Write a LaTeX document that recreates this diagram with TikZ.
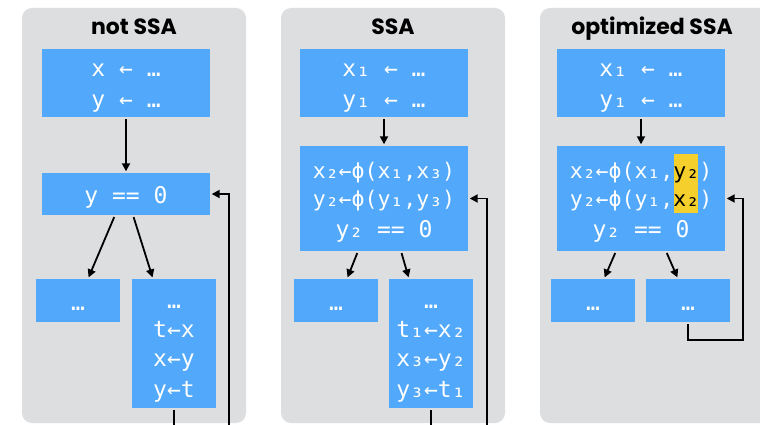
\documentclass[tikz,border=0pt]{standalone}
\usepackage{fontspec}
\usetikzlibrary{arrows.meta}
\newfontfamily\monofont{DejaVu Sans Mono}
\newfontfamily\titlefont{Poppins}
\newcommand\bs{\rule[-6pt]{0pt}{31pt}}
\newcommand\philine{\fontsize{21.5}{28}\selectfont}
\definecolor{panelgray}{HTML}{DDDEE0}
\definecolor{blockblue}{HTML}{52A8FA}
\definecolor{hlyellow}{HTML}{F5CF2B}
\begin{document}
\begin{tikzpicture}[x=1pt,y=-1pt,
  panel/.style={fill=panelgray, rounded corners=10pt},
  title/.style={font=\titlefont\bfseries\fontsize{22}{26}\selectfont, text=black, anchor=base, inner sep=0pt},
  block/.style={fill=blockblue, inner sep=0pt, text=white, align=center,
    font=\monofont\fontsize{23}{31}\selectfont},
  wide/.style={block, minimum width=168pt},
  narrow/.style={block, minimum width=84pt},
  flow/.style={line width=1.8pt, -{Triangle[length=8pt,width=8pt]}, shorten >=1.5pt, shorten <=2pt},
]
\useasboundingbox (0,0) rectangle (760,425);
\clip (0,0) rectangle (760,425);
\fill[white] (0,0) rectangle (760,425);
% panels
\path[panel] (22,8) rectangle (246,423);
\path[panel] (281,8) rectangle (505,423);
\path[panel] (540,8) rectangle (800,423);
\node[title] (t1) at (134,35) {not SSA};
\node[title] (t2) at (393,35) {SSA};
\node[title] (t3) at (652,34.5) {optimized SSA};
% panel 1
\node[wide, minimum height=68pt] (a1) at (126,83) {\bs x ← …\\y ← …\bs};
\node[wide, minimum height=42pt] (a2) at (126,194) {\bs y == 0\bs};
\node[narrow, minimum height=43pt] (a3) at (78,300.5) {\bs …\bs};
\node[narrow, minimum height=129pt, font=\monofont\fontsize{23}{29}\selectfont] (a4) at (174,343.5) {\bs …\\t←x\\x←y\\y←t\bs};
% panel 2
\node[wide, minimum height=68pt] (b1) at (384,83) {\bs x₁ ← …\\y₁ ← …\bs};
\node[wide, minimum height=105pt, font=\monofont\fontsize{23}{28}\selectfont] (b2) at (384,198.5) {\bs{\philine x₂←ϕ(x₁,x₃)}\\{\philine y₂←ϕ(y₁,y₃)}\\y₂ == 0\bs};
\node[narrow, minimum height=43pt] (b3) at (336,300.5) {\bs …\bs};
\node[narrow, minimum height=129pt, font=\monofont\fontsize{23}{29}\selectfont] (b4) at (431,343.5) {\bs …\\t₁←x₂\\x₃←y₂\\y₃←t₁\bs};
% panel 3
\node[wide, minimum height=68pt] (c1) at (641,83) {\bs x₁ ← …\\y₁ ← …\bs};
\node[wide, minimum height=105pt] (c2) at (641,198.5) {};
\fill[hlyellow] (674,154) rectangle (698,213);
\node[block, fill=none, font=\monofont\fontsize{23}{28}\selectfont] (c2t) at (c2.center) {\bs{\philine x₂←ϕ(x₁,{\color{black}y₂})}\\{\philine y₂←ϕ(y₁,{\color{black}x₂})}\\y₂ == 0\bs};
\node[narrow, minimum height=43pt] (c3) at (593,300.5) {\bs …\bs};
\node[narrow, minimum height=43pt] (c4) at (688,300.5) {\bs …\bs};
% connectors
\draw[flow] (a1) -- (a2);
\draw[flow] ([xshift=-11pt]a2.south) -- ([xshift=10pt]a3.north);
\draw[flow] ([xshift=7pt]a2.south) -- ([xshift=-21pt]a4.north);
\coordinate (l1) at (229,440);
\draw[flow] (a4.south) |- (l1) |- (a2.east);
\draw[flow] (b1) -- (b2);
\draw[flow] ([xshift=-26pt]b2.south) -- ([xshift=11pt]b3.north);
\draw[flow] ([xshift=17pt]b2.south) -- ([xshift=-22pt]b4.north);
\coordinate (l2) at (487,440);
\draw[flow] (b4.south) |- (l2) |- (b2.east);
\draw[flow] (c1) -- (c2);
\draw[flow] ([xshift=-25pt]c2.south) -- ([xshift=11pt]c3.north);
\draw[flow] ([xshift=25pt]c2.south) -- ([xshift=-10pt]c4.north);
\coordinate (l3) at (743,340);
\draw[flow] (c4.south) |- (l3) |- (c2.east);
\end{tikzpicture}
\end{document}
